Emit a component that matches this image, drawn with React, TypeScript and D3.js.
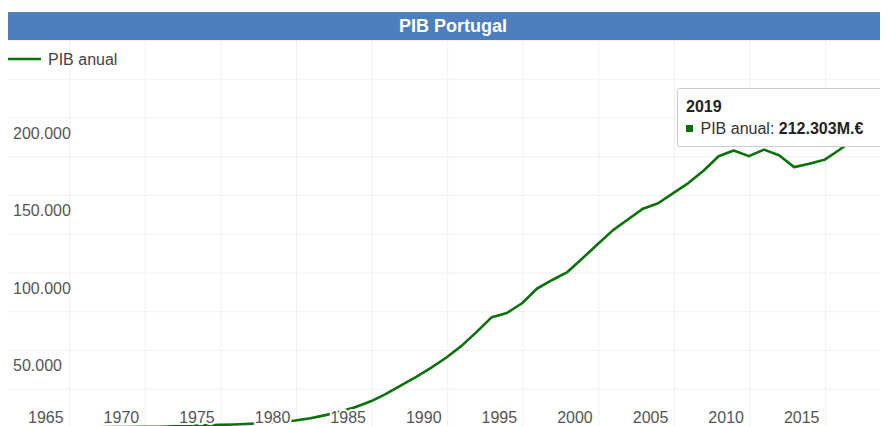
import { useEffect, useMemo } from "react";
import * as d3 from "d3";

// PIB anual de Portugal, milhões de euros
const years = [
    1960, 1961, 1962, 1963, 1964, 1965, 1966, 1967, 1968, 1969,
    1970, 1971, 1972, 1973, 1974, 1975, 1976, 1977, 1978, 1979,
    1980, 1981, 1982, 1983, 1984, 1985, 1986, 1987, 1988, 1989,
    1990, 1991, 1992, 1993, 1994, 1995, 1996, 1997, 1998, 1999,
    2000, 2001, 2002, 2003, 2004, 2005, 2006, 2007, 2008, 2009,
    2010, 2011, 2012, 2013, 2014, 2015, 2016, 2017, 2018, 2019,
];
const pibAnual = [
    300, 320, 350, 380, 420, 460, 510, 570, 640, 720,
    850, 1150, 1500, 1800, 2050, 2300, 2700, 3300, 4000, 4800,
    6300, 8300, 10600, 13600, 17200, 22000, 27500, 33000, 39000, 45500,
    53000, 62000, 71500, 74200, 80500, 90000, 95500, 100600, 109500, 118500,
    127500, 134500, 141500, 145000, 151500, 158000, 166000, 175300, 179000, 175400,
    179600, 176000, 168300, 170500, 173000, 179500, 186500, 195900, 205200, 212303,
];
const tickYears = [1965, 1970, 1975, 1980, 1985, 1990, 1995, 2000, 2005, 2010, 2015];
const gridValues = [25000, 50000, 75000, 100000, 125000, 150000, 175000, 200000, 225000, 250000];
const labelValues = [50000, 100000, 150000, 200000];

const title = "PIB Portugal";
const seriesName = "PIB anual";
const tooltipYear = 2019;

const chartWidth = 888;
const svgHeight = 418;
const lineColor = "#087208";
const font = "'Liberation Sans', Arial, sans-serif";

const fmt = (v: number) => d3.format(",")(v).replace(/,/g, ".");

export default function App() {
    useEffect(() => {
        // the chart runs past the window, as in the original; keep scrollbars away
        document.documentElement.style.overflow = "hidden";
        document.body.style.overflow = "hidden";
    }, []);

    const xScale = useMemo(
        () => d3.scaleLinear().domain([1960, 2019]).range([0, 892]),
        []
    );
    const yScale = useMemo(
        () => d3.scaleLinear().domain([0, 250000]).range([420, 32.5]),
        []
    );

    const path = useMemo(() => {
        const gen = d3
            .line<number>()
            .x((_, i) => xScale(years[i]))
            .y((d) => yScale(d));
        return gen(pibAnual) || "";
    }, [xScale, yScale]);

    const tipValue = pibAnual[years.indexOf(tooltipYear)];

    return (
        <svg width={chartWidth} height={svgHeight} style={{ display: "block" }} fontFamily={font}>
            <rect x={0} y={0} width={chartWidth} height={svgHeight} fill="#fff" />
            {/* grid */}
            {gridValues.map((v) => (
                <line key={v} x1={0} x2={chartWidth} y1={yScale(v)} y2={yScale(v)} stroke="#f0f0f0" strokeWidth={1} />
            ))}
            {tickYears.map((t) => (
                <line
                    key={t}
                    x1={xScale(t - 0.92)}
                    x2={xScale(t - 0.92)}
                    y1={yScale(250000)}
                    y2={yScale(0)}
                    stroke="#f0f0f0"
                    strokeWidth={1}
                />
            ))}

            {/* title */}
            <rect x={0} y={4} width={chartWidth} height={28} fill="#4d7fbe" />
            <text x={445} y={23.7} textAnchor="middle" fill="#fff" fontWeight="bold" fontSize={18}>
                {title}
            </text>

            {/* legend */}
            <line x1={0} x2={33} y1={51} y2={51} stroke={lineColor} strokeWidth={2.5} />
            <text x={40} y={57} fontSize={16} fill="#444">
                {seriesName}
            </text>

            {/* series */}
            <path d={path} fill="none" stroke={lineColor} strokeWidth={2.6} strokeLinejoin="round" />

            {/* axis labels */}
            {labelValues.map((v) => (
                <text
                    key={v}
                    x={5}
                    y={yScale(v) + 20.5}
                    fontSize={16}
                    fill="#555"
                    stroke="#fff"
                    strokeWidth={3}
                    paintOrder="stroke"
                >
                    {fmt(v)}
                </text>
            ))}
            {tickYears.map((t) => (
                <text
                    key={t}
                    x={xScale(t - 2.5)}
                    y={415.3}
                    textAnchor="middle"
                    fontSize={16}
                    fill="#555"
                    stroke="#fff"
                    strokeWidth={4}
                    paintOrder="stroke"
                >
                    {t}
                </text>
            ))}

            {/* tooltip */}
            <g>
                <rect x={669.5} y={80.5} width={207} height={58} fill="#fff" stroke="#ccc" strokeWidth={1} rx={2} />
                <text x={678} y={103.7} fontSize={16} fontWeight="bold" fill="#222">
                    {tooltipYear}
                </text>
                <rect x={678} y={117} width={7} height={7} fill={lineColor} />
                <text x={692.5} y={126.3} fontSize={16} fill="#333">
                    {seriesName}: <tspan fontWeight="bold" fill="#222">{fmt(tipValue)}M.€</tspan>
                </text>
            </g>
        </svg>
    );
}
